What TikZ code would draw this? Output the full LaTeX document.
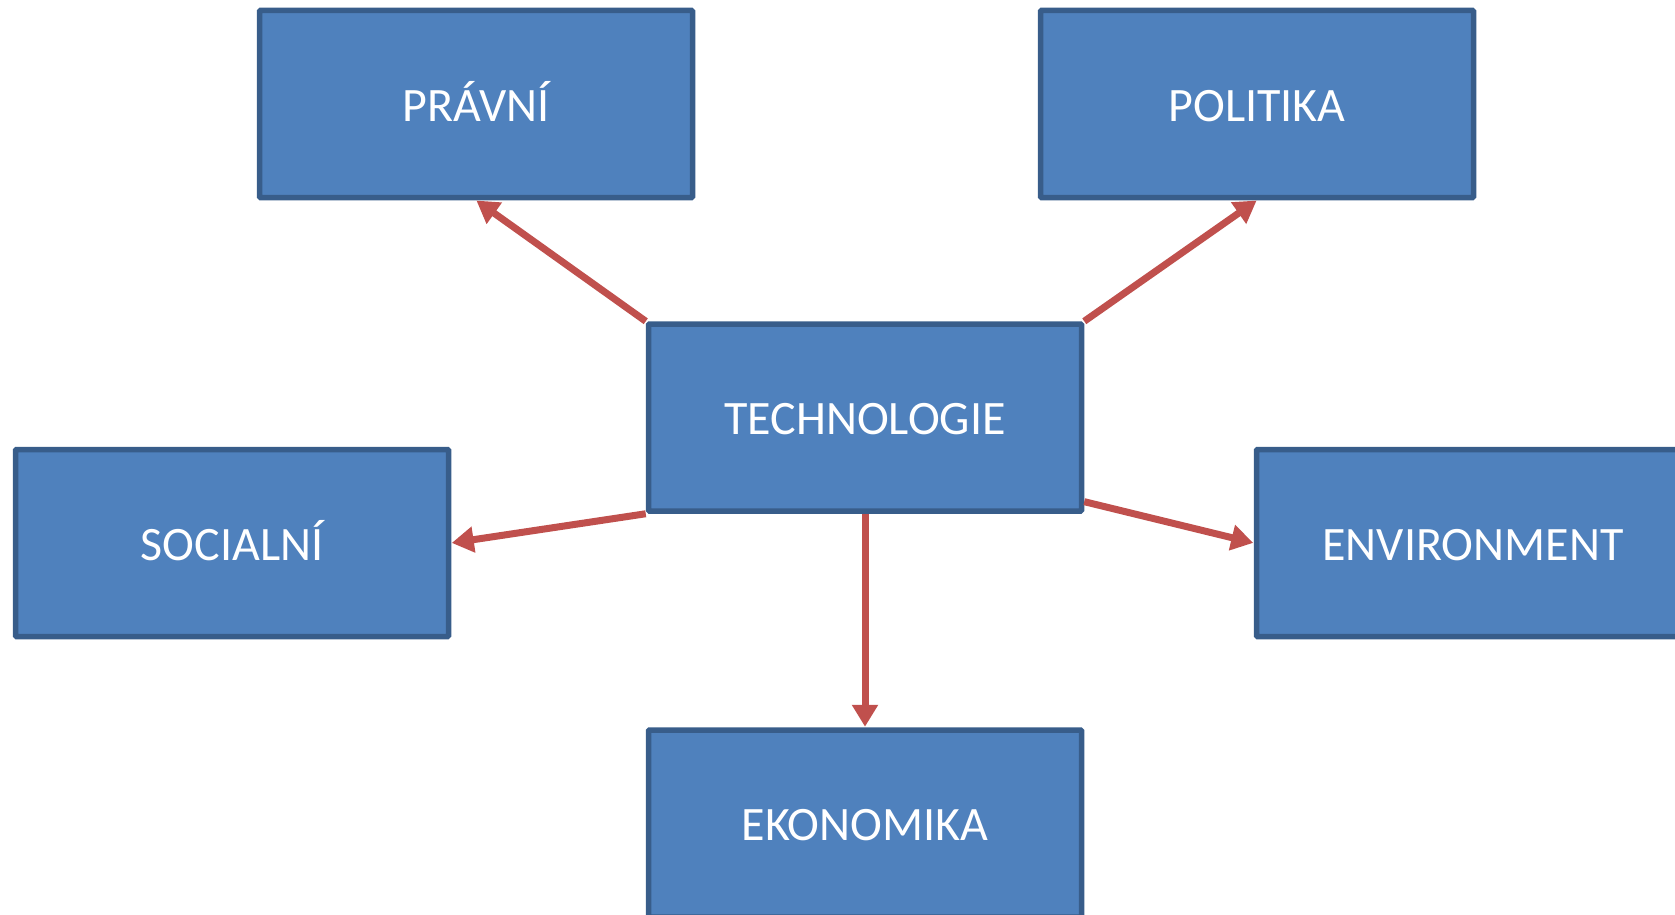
\documentclass[tikz,border=0pt]{standalone}
\usepackage{fontspec}
\setmainfont{Carlito}
\usetikzlibrary{arrows.meta}
\definecolor{boxfill}{HTML}{4F81BD}
\definecolor{boxline}{HTML}{385D8A}
\definecolor{arrowred}{HTML}{C0504D}

\begin{document}
\begin{tikzpicture}[x=1pt,y=-1pt,
    area/.style={draw=boxline, fill=boxfill, line width=5.5pt, rounded corners=1pt,
      minimum width=433pt, minimum height=187pt, inner sep=0pt,
      text=white, font=\fontsize{48}{58}\selectfont, text height=34.9pt, text depth=0pt},
    link/.style={draw=arrowred, line width=7pt, -{Triangle[length=22pt,width=25pt]}, shorten >=0.5pt}]
                \clip (0,0) rectangle (1675,915);
                \node[area] (pravni) at (476,104) {PRÁVNÍ};
                \node[area] (politika) at (1257,104) {POLITIKA};
                \node[area] (tech) at (865,417.5) {TECHNOLOGIE};
                \node[area] (social) at (232,543) {SOCIALNÍ};
                \node[area] (environment) at (1473,543) {ENVIRONMENT};
                \node[area] (ekonomika) at (865,823.5) {EKONOMIKA};
                \draw[link] (tech.north west) -- (pravni.south);
                \draw[link] (tech.north east) -- (politika.south);
                \draw[link] (tech.south west) -- (social.east);
                \draw[link] (tech.-21) -- (environment.west);
                \draw[link] (tech.south) -- (ekonomika.north);
            \end{tikzpicture}
\end{document}
